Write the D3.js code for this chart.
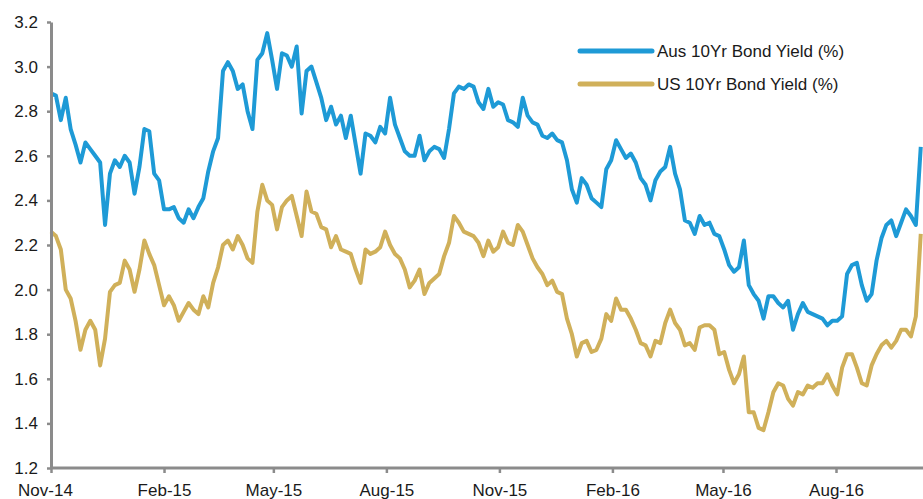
<!DOCTYPE html>
<html>
<head>
<meta charset="utf-8">
<script src="https://cdn.jsdelivr.net/npm/d3@7"></script>
<style>
  body { margin: 0; background: #fff; }
  svg { display: block; font-family: "Liberation Sans", Arial, sans-serif; }
</style>
</head>
<body>
<div id="chart"></div>
<script>
// values, one point every 4 days starting 1 Nov 2014
var startDate = new Date(2014, 10, 1);
var stepDays = 4;

var ausYield = [
  2.88, 2.87, 2.76, 2.86, 2.72, 2.65, 2.57, 2.66, 2.63, 2.60,
  2.57, 2.29, 2.52, 2.58, 2.55, 2.60, 2.57, 2.43, 2.55, 2.72,
  2.71, 2.52, 2.49, 2.36, 2.36, 2.37, 2.32, 2.30, 2.36, 2.32,
  2.37, 2.41, 2.53, 2.62, 2.68, 2.98, 3.02, 2.98, 2.90, 2.92,
  2.80, 2.72, 3.03, 3.06, 3.15, 3.03, 2.90, 3.06, 3.05, 3.00,
  3.09, 2.79, 2.98, 3.00, 2.93, 2.86, 2.76, 2.82, 2.74, 2.78,
  2.68, 2.78, 2.65, 2.52, 2.70, 2.69, 2.66, 2.73, 2.70, 2.86,
  2.74, 2.68, 2.62, 2.60, 2.60, 2.69, 2.58, 2.62, 2.64, 2.63,
  2.59, 2.72, 2.88, 2.91, 2.90, 2.92, 2.91, 2.84, 2.81, 2.90,
  2.82, 2.84, 2.83, 2.76, 2.75, 2.73, 2.86, 2.78, 2.75, 2.74,
  2.69, 2.68, 2.70, 2.67, 2.66, 2.58, 2.45, 2.39, 2.50, 2.47,
  2.41, 2.39, 2.37, 2.54, 2.58, 2.67, 2.63, 2.59, 2.61, 2.57,
  2.50, 2.47, 2.40, 2.49, 2.53, 2.55, 2.64, 2.52, 2.45, 2.31,
  2.30, 2.25, 2.33, 2.29, 2.30, 2.25, 2.24, 2.18, 2.11, 2.08,
  2.10, 2.22, 2.02, 1.98, 1.95, 1.87, 1.97, 1.97, 1.94, 1.92,
  1.95, 1.82, 1.89, 1.94, 1.90, 1.89, 1.88, 1.87, 1.84, 1.86,
  1.86, 1.88, 2.07, 2.11, 2.12, 2.02, 1.95, 1.98, 2.13, 2.23,
  2.29, 2.31, 2.24, 2.30, 2.36, 2.33, 2.29, 2.64
];

var usYield = [
  2.26, 2.24, 2.18, 2.00, 1.96, 1.86, 1.73, 1.82, 1.86, 1.82,
  1.66, 1.78, 1.99, 2.02, 2.03, 2.13, 2.09, 1.99, 2.09, 2.22,
  2.16, 2.11, 2.02, 1.93, 1.97, 1.93, 1.86, 1.90, 1.94, 1.91,
  1.89, 1.97, 1.92, 2.03, 2.10, 2.20, 2.22, 2.18, 2.24, 2.20,
  2.14, 2.12, 2.35, 2.47, 2.40, 2.38, 2.27, 2.37, 2.40, 2.42,
  2.33, 2.24, 2.44, 2.35, 2.34, 2.28, 2.27, 2.19, 2.24, 2.18,
  2.17, 2.16, 2.09, 2.03, 2.18, 2.16, 2.17, 2.19, 2.26, 2.20,
  2.16, 2.14, 2.09, 2.01, 2.04, 2.09, 1.98, 2.03, 2.05, 2.07,
  2.15, 2.21, 2.33, 2.30, 2.26, 2.25, 2.24, 2.21, 2.15, 2.22,
  2.17, 2.19, 2.26, 2.21, 2.20, 2.29, 2.26, 2.20, 2.14, 2.10,
  2.07, 2.02, 2.04, 1.99, 1.98, 1.87, 1.80, 1.70, 1.76, 1.77,
  1.72, 1.73, 1.78, 1.89, 1.86, 1.96, 1.91, 1.91, 1.87, 1.82,
  1.76, 1.75, 1.70, 1.77, 1.76, 1.85, 1.91, 1.85, 1.82, 1.75,
  1.76, 1.73, 1.83, 1.84, 1.84, 1.82, 1.71, 1.72, 1.64, 1.58,
  1.62, 1.70, 1.45, 1.45, 1.38, 1.37, 1.45, 1.54, 1.58, 1.57,
  1.51, 1.48, 1.54, 1.53, 1.57, 1.56, 1.58, 1.58, 1.62, 1.57,
  1.53, 1.65, 1.71, 1.71, 1.65, 1.58, 1.57, 1.66, 1.71, 1.75,
  1.77, 1.74, 1.77, 1.82, 1.82, 1.79, 1.88, 2.25
];

var seriesNames = ["Aus 10Yr Bond Yield (%)", "US 10Yr Bond Yield (%)"];
var seriesColors = ["#1e9ad6", "#d0b05a"];
var yTicks = [1.2, 1.4, 1.6, 1.8, 2.0, 2.2, 2.4, 2.6, 2.8, 3.0, 3.2];
var xTickLabels = ["2014-11-01", "2015-02-01", "2015-05-01", "2015-08-01",
                   "2015-11-01", "2016-02-01", "2016-05-01", "2016-08-01"];

var width = 923, height = 499;
var axisColor = "#8b8b8b";

var svg = d3.select("#chart").append("svg")
  .attr("width", width)
  .attr("height", height);

var parse = d3.timeParse("%Y-%m-%d");
var dates = ausYield.map(function(d, i) { return d3.timeDay.offset(startDate, i * stepDays); });

// x: Nov-14 sits on the y axis, Aug-16 at ~836px
var x = d3.scaleTime()
  .domain([startDate, parse("2016-08-01")])
  .range([51, 836]);

var y = d3.scaleLinear()
  .domain([1.2, 3.2])
  .range([468, 22]);

var line = d3.line()
  .x(function(d) { return x(d.date); })
  .y(function(d) { return y(d.value); });

var series = [ausYield, usYield].map(function(vals, k) {
  return {
    name: seriesNames[k],
    color: seriesColors[k],
    values: vals.map(function(v, i) { return {date: dates[i], value: v}; })
  };
});

// draw US first so the Aus line sits on top
series.slice().reverse().forEach(function(s) {
  svg.append("path")
    .datum(s.values)
    .attr("fill", "none")
    .attr("stroke", s.color)
    .attr("stroke-width", 4)
    .attr("stroke-linejoin", "round")
    .attr("d", line);
});

// y axis
var yAxis = svg.append("g")
  .attr("transform", "translate(51,0)")
  .call(d3.axisLeft(y).tickValues(yTicks).tickFormat(d3.format(".1f"))
    .tickSize(4).tickSizeOuter(0).tickPadding(9));

// x axis
var xAxis = svg.append("g")
  .attr("transform", "translate(0,468)")
  .call(d3.axisBottom(x).tickValues(xTickLabels.map(parse))
    .tickFormat(d3.timeFormat("%b-%y"))
    .tickSize(5).tickSizeOuter(0).tickPadding(11));
xAxis.select(".domain").attr("d", "M51,0H" + width);
xAxis.selectAll(".tick").filter(function(d, i) { return i == 0; })
  .select("text").attr("dx", -6);

[yAxis, xAxis].forEach(function(a) {
  a.select(".domain").attr("stroke", axisColor).attr("stroke-width", 3);
  a.selectAll(".tick line").attr("stroke", axisColor).attr("stroke-width", 2.5);
  a.selectAll(".tick text")
    .attr("fill", "#1a1a1a")
    .style("font-size", "17px")
    .style("font-family", "'Liberation Sans', Arial, sans-serif");
});

// legend
var legend = svg.append("g")
  .attr("transform", "translate(580,51)");

var item = legend.selectAll(".item")
  .data(series)
  .enter().append("g")
    .attr("class", "item")
    .attr("transform", function(d, i) { return "translate(0," + (i * 33) + ")"; });

item.append("line")
  .attr("x1", 0).attr("x2", 72)
  .attr("stroke", function(d) { return d.color; })
  .attr("stroke-width", 5)
  .attr("stroke-linecap", "round");

item.append("text")
  .attr("x", 77)
  .attr("dy", "0.36em")
  .attr("fill", "#1a1a1a")
  .style("font-size", "17px")
  .text(function(d) { return d.name; });
</script>
</body>
</html>
